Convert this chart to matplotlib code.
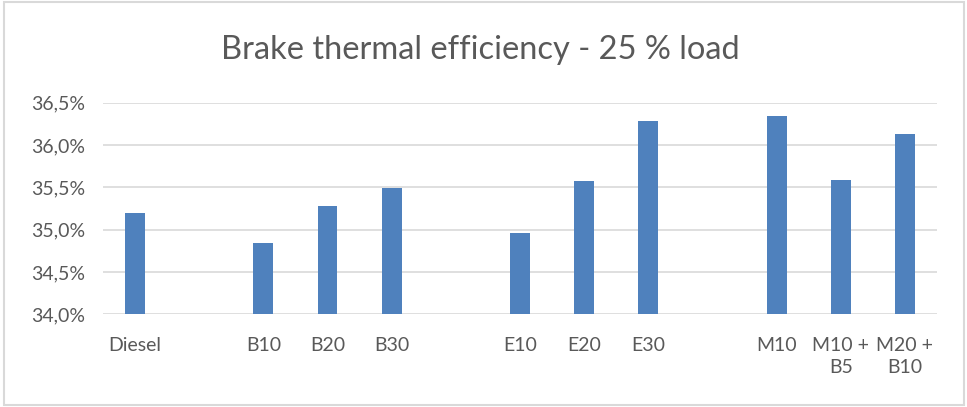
import matplotlib.pyplot as plt
from matplotlib.patches import Rectangle

# data (blank entries are the gaps between groups)
categories = ["Diesel", "", "B10", "B20", "B30", "", "E10", "E20", "E30", "",
              "M10", "M10 +\nB5", "M20 +\nB10"]
efficiency = [35.20, None, 34.84, 35.28, 35.49, None, 34.96, 35.57, 36.28, None,
              36.34, 35.59, 36.13]
y_ticks = [34.0, 34.5, 35.0, 35.5, 36.0, 36.5]
y_tick_labels = ["34,0%", "34,5%", "35,0%", "35,5%", "36,0%", "36,5%"]

plt.rcParams['font.family'] = ['Lato', 'DejaVu Sans']
text_color = "#595959"
grid_color = "#D9D9D9"

fig = plt.figure(figsize=(9.67, 4.07), dpi=100)
ax = fig.add_axes([0.1065, 0.2278, 0.8625, 0.5199])

x = list(range(len(categories)))
xs = [i for i, v in zip(x, efficiency) if v is not None]
vals = [v for v in efficiency if v is not None]
ax.bar(xs, [v - y_ticks[0] for v in vals], bottom=y_ticks[0], width=0.31,
       color="#4F81BD", zorder=3)

ax.set_xlim(-0.5, len(categories) - 0.5)
ax.set_ylim(y_ticks[0], y_ticks[-1])
ax.set_yticks(y_ticks)
ax.set_yticklabels(y_tick_labels, fontsize=14, color=text_color)
ax.set_xticks(x)
ax.set_xticklabels(categories, fontsize=14, color=text_color,
                   linespacing=1.4, va="top")
ax.tick_params(axis="both", length=0)
ax.tick_params(axis="x", pad=16)
ax.tick_params(axis="y", pad=13)
ax.grid(axis="y", color=grid_color, linewidth=1.2, zorder=0)
for side in ["top", "right", "left", "bottom"]:
    ax.spines[side].set_visible(False)

fig.text(0.497, 0.878, "Brake thermal efficiency - 25 % load", ha="center",
         va="center", fontsize=23.5, color=text_color)

# chart border
fig.patches.append(Rectangle((0.004, 0.004), 0.993, 0.99, transform=fig.transFigure,
                             fill=False, edgecolor=grid_color, linewidth=1.5))

fig.savefig("out.png", dpi=100, facecolor="white")
